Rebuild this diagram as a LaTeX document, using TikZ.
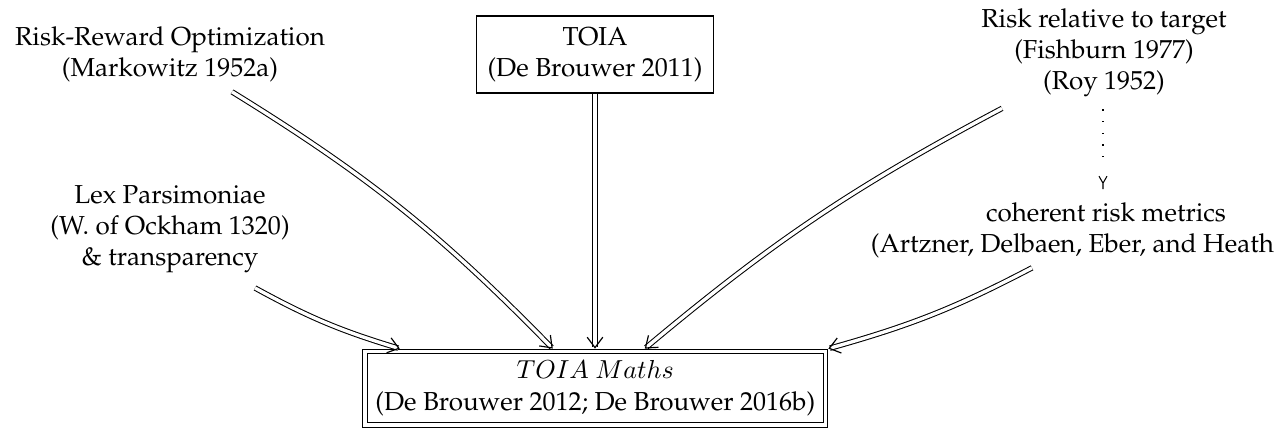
\documentclass[tikz,border=0pt]{standalone}
\usepackage[T1]{fontenc}
\renewcommand{\rmdefault}{ppl}
\usetikzlibrary{arrows.meta,calc}
\begin{document}
\begin{tikzpicture}[x=0.3846pt,y=-0.3846pt,
  txt/.style={align=center,inner sep=3.3pt},
  topbox/.style={draw,align=center,inner sep=4.3pt,line width=0.4pt},
  mbox/.style={draw,double,double distance=1.2pt,line width=0.4pt,align=center,
    inner sep=0pt,minimum width=177.1pt,minimum height=28.3pt,outer sep=1.1pt},
  dbl/.style={double,double distance=1.3pt,line width=0.4pt,
    -{Straight Barb[length=4pt,width=6pt,line width=0.45pt]}},
  dotline/.style={line width=0.5pt,dash pattern=on 0.5pt off 4pt},
  ytip/.style={line width=0.4pt}]
\clip (0,0) rectangle (1275,427);
\node[txt] (rr) at (170,54) {Risk-Reward Optimization\\(Markowitz 1952a)};
\node[txt] (lex) at (170,229) {Lex Parsimoniae\\(W. of Ockham 1320)\\\& transparency};
\node[topbox] (toia) at (595,54.5) {TOIA\\(De Brouwer 2011)};
\node[txt] (rt) at (1104,53) {Risk relative to target\\(Fishburn 1977)\\(Roy 1952)};
\node[txt] (crm) at (1106,230) {coherent risk metrics\\(Artzner, Delbaen, Eber, and Heath\phantom{\ 1999)}};
\node[mbox] (maths) at (595.25,388.25) {$TOIA\ Maths$\\(De Brouwer 2012; De Brouwer 2016b)};
\draw[dbl] ($(rr.south)+(62,1)$) to[bend left=7] ($(maths.north)+(-42.5,0)$);
\draw[dbl] ($(lex.south)+(85,6)$) to[bend right=6] ($(maths.north)+(-195.5,0)$);
\draw[dbl] (toia.south) -- (toia.south |- maths.north);
\draw[dbl] ($(rt.south)+(-102,2)$) to[bend right=6] ($(maths.north)+(49.5,0)$);
\draw[dbl] ($(crm.south)+(-74,1)$) to[bend left=6] (maths.north east);
\coordinate (dtop) at ($(rt.south)+(-1,3)$);
\coordinate (dend) at ($(rt.south |- crm.north)+(-1,-4)$);
\draw[dotline] (dtop) -- ($(dend)+(0,-22)$);
\draw[ytip] ($(dend)+(-4,-13)$) -- ($(dend)+(0,-6)$) -- ($(dend)+(4,-13)$)
  ($(dend)+(0,-6)$) -- (dend);
\end{tikzpicture}
\end{document}
